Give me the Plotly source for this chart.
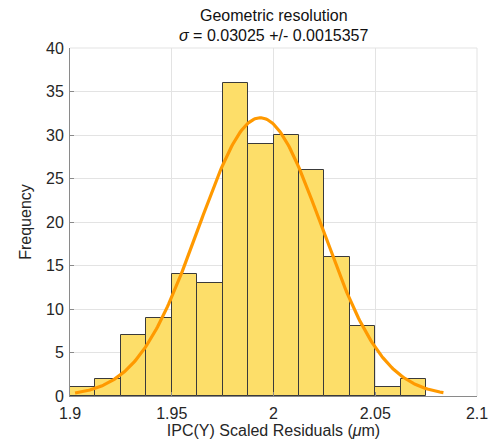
import numpy as np
import plotly.graph_objects as go

# Histogram of scaled residuals (bin edges 1.9 .. 2.075, width 0.0125)
bin_start = 1.9
bin_width = 0.0125
counts = [1, 2, 7, 9, 14, 13, 36, 29, 30, 26, 16, 8, 1, 2]

# Gaussian fit parameters
fit_mean = 1.9935
fit_sigma = 0.03025
fit_sigma_err = 0.0015357
fit_range = [1.9025, 2.0835]

x_ticks = [1.9, 1.95, 2.0, 2.05, 2.1]
x_tick_text = ["1.9", "1.95", "2", "2.05", "2.1"]
y_ticks = [0, 5, 10, 15, 20, 25, 30, 35, 40]

centers = [bin_start + (i + 0.5) * bin_width for i in range(len(counts))]
n_total = sum(counts)

xf = np.linspace(fit_range[0], fit_range[1], 300)
yf = n_total * bin_width / (fit_sigma * np.sqrt(2 * np.pi)) * np.exp(
    -0.5 * ((xf - fit_mean) / fit_sigma) ** 2)

font_family = "Liberation Sans, Arial, Helvetica, sans-serif"
grid_col = "#e3e3e3"
axis_col = "#8a8a8a"

fig = go.Figure()
fig.add_trace(go.Bar(
    x=centers, y=counts, width=bin_width,
    marker=dict(color="#FDDE69", line=dict(color="#3a3a3a", width=1)),
    hoverinfo="x+y",
))
fig.add_trace(go.Scatter(
    x=xf, y=yf, mode="lines",
    line=dict(color="#FF9900", width=3.2),
))

fig.update_layout(
    width=500, height=447,
    margin=dict(l=70, r=21, t=48, b=48),
    paper_bgcolor="white", plot_bgcolor="white",
    showlegend=False,
    bargap=0,
    font=dict(family=font_family, color="#262626", size=16),
    xaxis=dict(
        range=[1.9, 2.1], tickvals=x_ticks, ticktext=x_tick_text,
        showgrid=True, gridcolor=grid_col, gridwidth=1,
        zeroline=False,
        showline=True, linecolor=axis_col, linewidth=1, mirror=False,
        ticks="inside", ticklen=4, tickcolor=axis_col,
        ticklabelstandoff=3,
        tickfont=dict(size=16),
        title=dict(text="IPC(Y) Scaled Residuals (<i>μ</i>m)", font=dict(size=16), standoff=2),
    ),
    yaxis=dict(
        range=[0, 40], tickvals=y_ticks,
        showgrid=True, gridcolor=grid_col, gridwidth=1,
        zeroline=False,
        showline=True, linecolor=axis_col, linewidth=1,
        ticks="inside", ticklen=4, tickcolor=axis_col,
        ticklabelstandoff=2,
        tickfont=dict(size=16),
        title=dict(text="Frequency", font=dict(size=16), standoff=10),
    ),
)

# two-line title, centred over the plot area
title_lines = ["Geometric resolution",
               f"<i>σ</i> = {fit_sigma} +/- {fit_sigma_err}"]
for i, line in enumerate(title_lines):
    fig.add_annotation(
        text=line, xref="paper", yref="paper",
        x=0.5, y=1 + (48 - 15 - 20 * i) / (447 - 96),
        xanchor="center", yanchor="middle", showarrow=False,
        font=dict(size=16, color="#111111"),
    )

# light frame on the top and right edges
fig.add_shape(type="line", xref="paper", yref="paper", x0=0, x1=1, y0=1, y1=1,
              line=dict(color=grid_col, width=1))
fig.add_shape(type="line", xref="paper", yref="paper", x0=1, x1=1, y0=0, y1=1,
              line=dict(color=grid_col, width=1))

fig.write_html("out.html")
